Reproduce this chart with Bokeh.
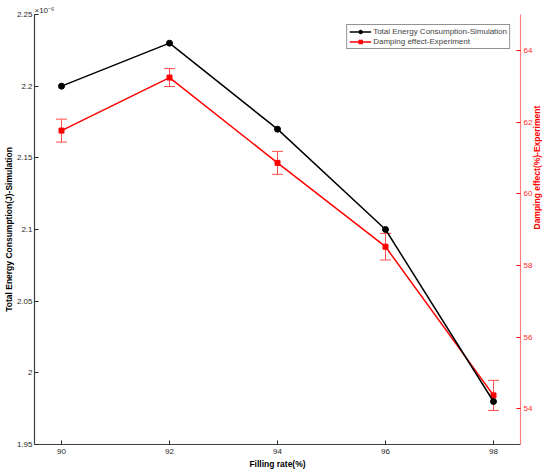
import math
from bokeh.plotting import figure
from bokeh.models import (Range1d, LinearAxis, FixedTicker, CustomJSTickFormatter,
                          Whisker, TeeHead, ColumnDataSource, Legend, LegendItem, Title)
from bokeh.embed import file_html
from bokeh.resources import INLINE

filling_rate = [90, 92, 94, 96, 98]
energy_sim = [2.20e-6, 2.23e-6, 2.17e-6, 2.10e-6, 1.98e-6]
damping_exp = [61.76, 63.24, 60.86, 58.52, 54.37]
damping_err = [0.32, 0.25, 0.32, 0.37, 0.42]

x_ticks = [90, 92, 94, 96, 98]
left_ticks = [1.95, 2.0, 2.05, 2.1, 2.15, 2.2, 2.25]
right_ticks = [54, 56, 58, 60, 62, 64]

x_title = "Filling rate(%)"
left_title = "Total Energy Consumption(J)-Simulation"
right_title = "Damping effect(%)-Experiment"

FONT = "Liberation Sans"
GRAY = "#262626"
RED = "#ff0000"

energy_scaled = [v * 1e6 for v in energy_sim]
src_e = ColumnDataSource(dict(x=filling_rate, y=energy_scaled))
src_d = ColumnDataSource(dict(
    x=filling_rate, y=damping_exp,
    lo=[a - b for a, b in zip(damping_exp, damping_err)],
    hi=[a + b for a, b in zip(damping_exp, damping_err)]))

p = figure(width=550, height=473, x_range=Range1d(89.5, 98.5), y_range=Range1d(1.95, 2.25),
           output_backend="svg", toolbar_location=None,
           min_border_top=14, min_border_right=28, min_border_left=33, min_border_bottom=29)
p.extra_y_ranges = {"right": Range1d(53, 65)}
p.outline_line_color = None
p.xgrid.visible = False
p.ygrid.visible = False
p.background_fill_color = "white"

def style_axis(ax, color, label_color, line_color, title, title_color):
    ax.major_tick_in = 4
    ax.major_tick_out = 0
    ax.minor_tick_in = 0
    ax.minor_tick_out = 0
    ax.major_tick_line_color = color
    ax.axis_line_color = line_color
    ax.axis_line_width = 1.2
    ax.major_label_text_color = label_color
    ax.major_label_text_font = FONT
    ax.major_label_text_font_size = "8px"
    ax.major_label_standoff = 2
    ax.axis_label = title
    ax.axis_label_text_font = FONT
    ax.axis_label_text_font_style = "bold"
    ax.axis_label_text_font_size = "8.5px"
    ax.axis_label_text_color = title_color
    ax.axis_label_standoff = 0

xa = p.xaxis[0]
style_axis(xa, GRAY, GRAY, "#404040", x_title, "black")
xa.ticker = FixedTicker(ticks=x_ticks)
xa.major_label_standoff = 4
xa.axis_label_standoff = 2

ya = p.yaxis[0]
style_axis(ya, GRAY, GRAY, "#404040", left_title, "black")
ya.ticker = FixedTicker(ticks=left_ticks)
ya.formatter = CustomJSTickFormatter(code="return Number(tick.toFixed(2)).toString();")

ra = LinearAxis(y_range_name="right")
style_axis(ra, RED, "#ff2a2a", "#ff7f7f", right_title, RED)
ra.ticker = FixedTicker(ticks=right_ticks)
ra.major_label_standoff = 3
ra.axis_label_standoff = 2
ra.axis_label_orientation = math.pi / 2
p.add_layout(ra, "right")

# exponent of the left axis
p.add_layout(Title(text="\u00d710\u207b\u2076", align="left", text_font=FONT, text_font_size="8px",
                   text_font_style="normal", text_color=GRAY, offset=0, standoff=0), "above")

# red series (right axis)
wh = Whisker(base="x", lower="lo", upper="hi", source=src_d, dimension="height", y_range_name="right",
             line_color="#ff4d4d", line_width=1,
             upper_head=TeeHead(size=11, line_color="#ff4d4d", line_width=1),
             lower_head=TeeHead(size=11, line_color="#ff4d4d", line_width=1))
p.add_layout(wh)
rl = p.line("x", "y", source=src_d, y_range_name="right", line_color=RED, line_width=1.5)
rm = p.scatter("x", "y", source=src_d, y_range_name="right", marker="square", size=5,
               fill_color=RED, line_color=RED)

# black series (left axis)
bl = p.line("x", "y", source=src_e, line_color="black", line_width=1.5)
bm = p.scatter("x", "y", source=src_e, marker="circle", size=6, fill_color="black", line_color="black")

legend = Legend(items=[
    LegendItem(label="Total Energy Consumption-Simulation", renderers=[bl, bm]),
    LegendItem(label="Damping effect-Experiment", renderers=[rl, rm]),
], location="top_right")
legend.label_text_font = FONT
legend.label_text_font_size = "8px"
legend.label_height = 9
legend.glyph_height = 9
legend.glyph_width = 22
legend.label_standoff = 2
legend.spacing = 1
legend.padding = 2
legend.margin = 10
legend.border_line_color = GRAY
legend.border_line_width = 1
legend.background_fill_alpha = 1
p.add_layout(legend)

open("out.html", "w").write(file_html(p, INLINE))
